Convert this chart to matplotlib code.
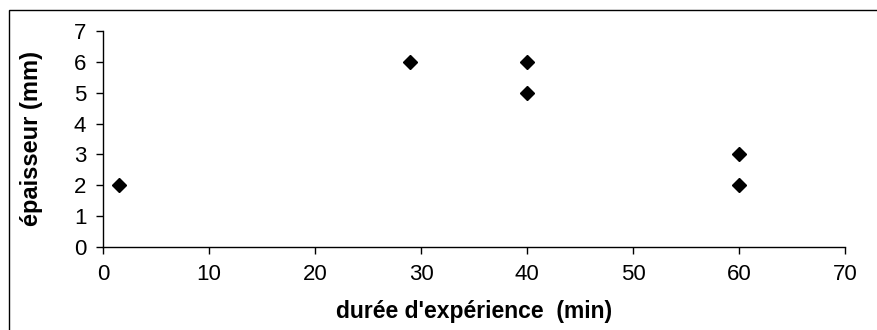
import matplotlib
matplotlib.use("Agg")
import matplotlib.pyplot as plt
from matplotlib.patches import Rectangle

# duree d'experience (min) vs epaisseur (mm)
duree = [1.5, 29, 40, 40, 60, 60]
epaisseur = [2, 6, 6, 5, 3, 2]
xticks = [0, 10, 20, 30, 40, 50, 60, 70]
yticks = [0, 1, 2, 3, 4, 5, 6, 7]

plt.rcParams['font.family'] = ['Liberation Sans', 'DejaVu Sans']

fig = plt.figure(figsize=(8.78, 3.30), dpi=100)
ax = fig.add_axes([103/878, 1 - 247/330, (845 - 103)/878, (247 - 31)/330])

ax.plot(duree, epaisseur, linestyle='none', marker='D', markersize=7.5,
        color='black', clip_on=False)

ax.set_xlim(0, 70)
ax.set_ylim(0, 7)
ax.set_xticks(xticks)
ax.set_yticks(yticks)
ax.tick_params(labelsize=16, length=5, width=1, direction='out', pad=7)
for s in ['top', 'right']:
    ax.spines[s].set_visible(False)
for s in ['left', 'bottom']:
    ax.spines[s].set_linewidth(1)

ax.set_xlabel("durée d'expérience  (min)", fontsize=16.5, fontweight='bold', labelpad=11)
ax.set_ylabel("épaisseur (mm)", fontsize=17, fontweight='bold', labelpad=22)

# outer chart border (runs off the right and bottom edges)
fig.patches.append(Rectangle((9/878, -0.1), 1.0, 1 - 10/330 + 0.1,
                             transform=fig.transFigure, fill=False,
                             edgecolor='black', linewidth=1))

fig.savefig("out.png", dpi=100)
